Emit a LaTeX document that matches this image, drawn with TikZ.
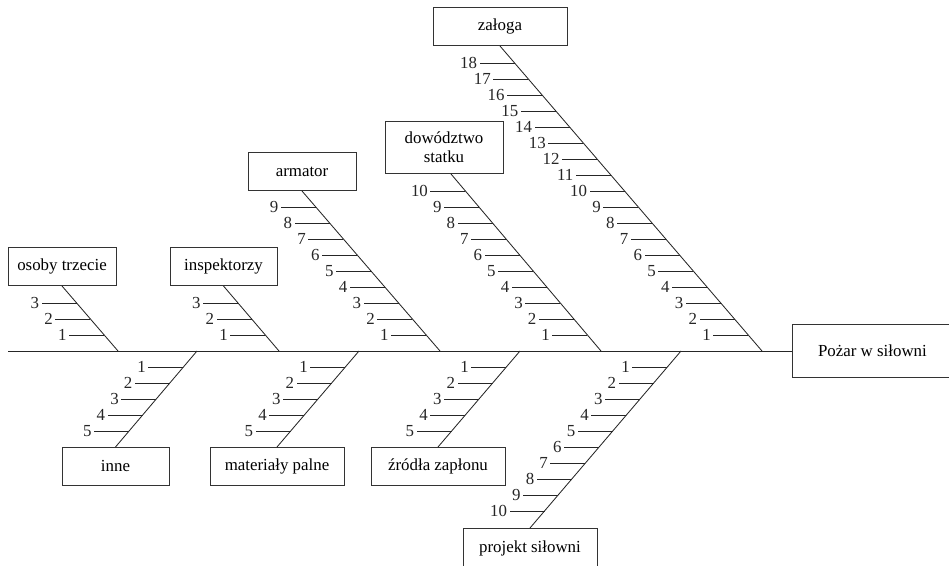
\documentclass[tikz,border=0pt]{standalone}
\usepackage{fontspec}
\setmainfont{Liberation Serif}
\usetikzlibrary{calc}
\tikzset{
  % prostokąt kategorii przyczyn
  cat/.style={draw=black!80, line width=0.6pt, minimum height=0.95cm, align=center,
    fill=white, inner sep=2pt, font=\fontsize{12}{13.5}\selectfont},
  % skutek (głowa ryby)
  effect/.style={cat, minimum width=4cm, minimum height=1.325cm, anchor=west},
  % ości i kreski przyczyn
  bone/.style={line width=0.6pt, black!85},
  % numery przyczyn
  num/.style={anchor=east, inner sep=1.5pt, font=\fontsize{12}{13.5}\selectfont},
}
\begin{document}
\begin{tikzpicture}[x=0.025cm, y=-0.025cm]
  \clip (0,0) rectangle (949,566);
  % kręgosłup
  \coordinate (tail) at (8,351);
  \node[effect] (eff) at (792,351) {Pożar w siłowni};
  \draw[bone] (tail) -- (eff.west);
  % punkty na kręgosłupie
  \coordinate (s-os) at (118,351);
  \coordinate (s-in) at (279,351);
  \coordinate (s-ar) at (440,351);
  \coordinate (s-dw) at (601,351);
  \coordinate (s-za) at (762,351);
  \coordinate (s-ie) at (197,351);
  \coordinate (s-mp) at (359,351);
  \coordinate (s-zz) at (520,351);
  \coordinate (s-ps) at (681,351);
  % kategorie nad osią
  \node[cat, anchor=south, minimum width=2.7cm] (os) at (62,286) {osoby trzecie};
  \node[cat, anchor=south, minimum width=2.675cm] (in) at (223.5,286) {inspektorzy};
  \node[cat, anchor=south, minimum width=2.7cm] (ar) at (302,191) {armator};
  \node[cat, anchor=south, minimum width=2.95cm, minimum height=1.3cm] (dw) at (444,174) {dowództwo\\statku};
  \node[cat, anchor=south, minimum width=3.35cm] (za) at (500,46) {załoga};
  \coordinate (dwk) at ([xshift=0.175cm]dw.south);
  % kategorie pod osią
  \node[cat, anchor=north, minimum width=2.675cm] (ie) at (115.5,447) {inne};
  \node[cat, anchor=north, minimum width=3.35cm] (mp) at (277,447) {materiały palne};
  \node[cat, anchor=north, minimum width=3.35cm] (zz) at (438,447) {źródła zapłonu};
  \node[cat, anchor=north, minimum width=3.35cm, minimum height=1.0cm] (ps) at (530,528) {projekt siłowni};
  % ości z numerami przyczyn
  \foreach \s/\e/\n/\h in {s-os/os.south/3/65, s-in/in.south/3/65, s-ar/ar.south/9/160,
      s-dw/dwk/10/177, s-za/za.south/18/305, s-ie/ie.north/5/96, s-mp/mp.north/5/96,
      s-zz/zz.north/5/96, s-ps/ps.north/10/177} {
    \draw[bone] (\s) -- (\e);
    \foreach \k in {1,...,\n} {
      \pgfmathsetmacro\f{16*\k/\h}
      \draw[bone] ($(\s)!\f!(\e)$) -- ++(-35,0) node[num] {\k};
    }
  }
\end{tikzpicture}
\end{document}
